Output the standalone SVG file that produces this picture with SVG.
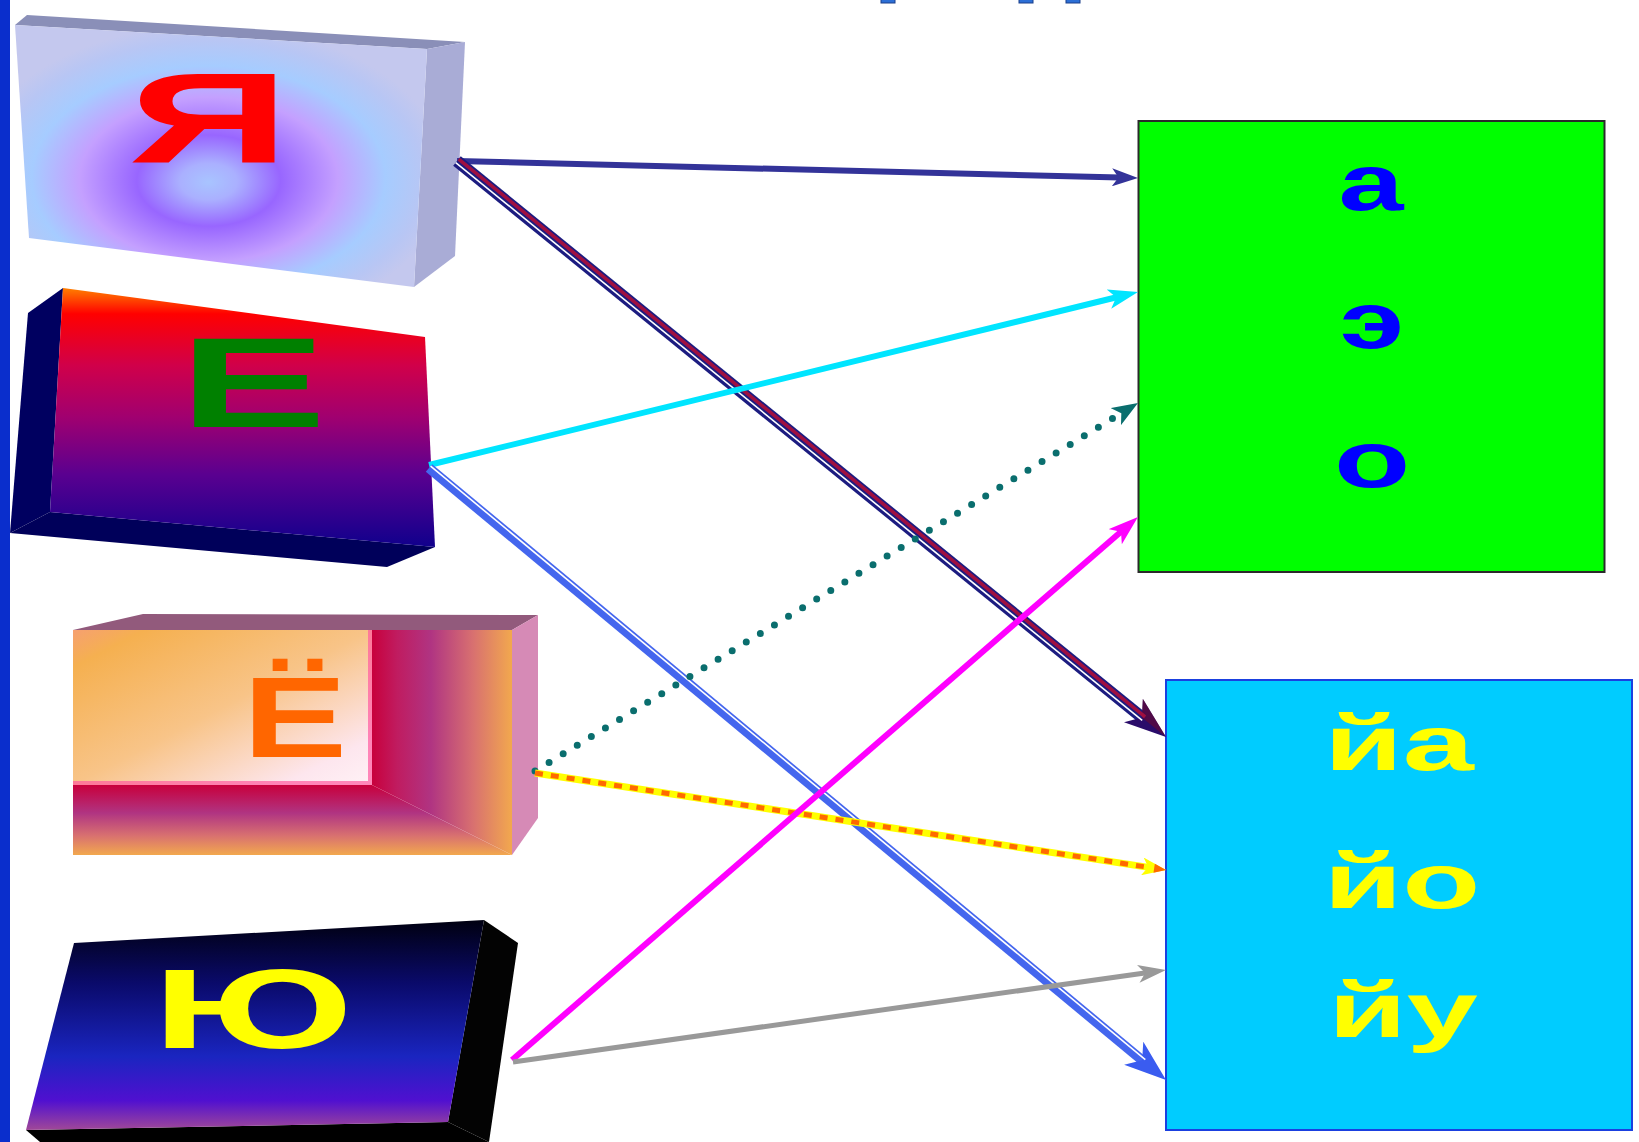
<svg xmlns="http://www.w3.org/2000/svg" width="1639" height="1142" viewBox="0 0 1639 1142">
<style>
.lt{font-family:"Liberation Sans",Arial,sans-serif;font-weight:bold;text-anchor:middle}
.c{fill:none}
</style>
<defs>
<radialGradient id="gYa" cx="0.47" cy="0.58" r="0.58" fx="0.47" fy="0.6">
<stop offset="0" stop-color="#a8c4ff"/>
<stop offset="0.12" stop-color="#aab0ff"/>
<stop offset="0.3" stop-color="#9866ff"/>
<stop offset="0.54" stop-color="#c4a0ff"/>
<stop offset="0.74" stop-color="#a6ccff"/>
<stop offset="0.9" stop-color="#b8c6f4"/>
<stop offset="1" stop-color="#c4c8ee"/>
</radialGradient>
<linearGradient id="gE" x1="0" y1="0" x2="0" y2="1">
<stop offset="0" stop-color="#ff8000"/>
<stop offset="0.1" stop-color="#ff0000"/>
<stop offset="0.3" stop-color="#d0004a"/>
<stop offset="0.5" stop-color="#a00070"/>
<stop offset="0.72" stop-color="#5a0090"/>
<stop offset="1" stop-color="#10008c"/>
</linearGradient>
<linearGradient id="gYoTL" x1="0" y1="0" x2="1" y2="1">
<stop offset="0" stop-color="#f6a070"/>
<stop offset="0.12" stop-color="#f5b050"/>
<stop offset="0.5" stop-color="#f8c488"/>
<stop offset="0.85" stop-color="#fde6ee"/>
<stop offset="1" stop-color="#fff2f6"/>
</linearGradient>
<linearGradient id="gYoR" gradientUnits="userSpaceOnUse" x1="372" y1="0" x2="512" y2="0">
<stop offset="0" stop-color="#c8003c"/>
<stop offset="0.18" stop-color="#c01c60"/>
<stop offset="0.42" stop-color="#b03482"/>
<stop offset="0.72" stop-color="#d87070"/>
<stop offset="1" stop-color="#f2a84e"/>
</linearGradient>
<linearGradient id="gYoB" gradientUnits="userSpaceOnUse" x1="0" y1="785" x2="0" y2="855">
<stop offset="0" stop-color="#c8003c"/>
<stop offset="0.4" stop-color="#b03482"/>
<stop offset="0.72" stop-color="#d87070"/>
<stop offset="1" stop-color="#f2a84e"/>
</linearGradient>
<linearGradient id="gYu" x1="0" y1="0" x2="0" y2="1">
<stop offset="0" stop-color="#000010"/>
<stop offset="0.3" stop-color="#0a0a6a"/>
<stop offset="0.65" stop-color="#1a25c0"/>
<stop offset="0.86" stop-color="#5010d0"/>
<stop offset="1" stop-color="#a04898"/>
</linearGradient>
<marker id="m1" viewBox="-26 -9 26 18" refX="-18" refY="0" markerWidth="26" markerHeight="18" markerUnits="userSpaceOnUse" orient="auto"><path d="M0,0 L-26,-9 L-19.5,0 L-26,9 Z" fill="#333399"/></marker>
<marker id="m2" viewBox="-42 -15 42 30" refX="-29" refY="0" markerWidth="42" markerHeight="30" markerUnits="userSpaceOnUse" orient="auto"><path d="M0,0 L-42,-15 L-31,0 L-42,15 Z" fill="#2a0c6a"/><path d="M0,0 L-42,-15 L-31,0 Z" fill="#6a0a30" opacity="0.6"/></marker>
<marker id="m3" viewBox="-30 -10 30 20" refX="-21" refY="0" markerWidth="30" markerHeight="20" markerUnits="userSpaceOnUse" orient="auto"><path d="M0,0 L-30,-10 L-22.5,0 L-30,10 Z" fill="#00e5ff"/></marker>
<marker id="m4" viewBox="-42 -15 42 30" refX="-29" refY="0" markerWidth="42" markerHeight="30" markerUnits="userSpaceOnUse" orient="auto"><path d="M0,0 L-42,-15 L-31,0 L-42,15 Z" fill="#3a5cf0"/></marker>
<marker id="m5" viewBox="-26 -10 26 20" refX="-18" refY="0" markerWidth="26" markerHeight="20" markerUnits="userSpaceOnUse" orient="auto"><path d="M0,0 L-26,-10 L-19.5,0 L-26,10 Z" fill="#0a6e6e"/></marker>
<marker id="m6" viewBox="-24 -9 24 18" refX="-16" refY="0" markerWidth="24" markerHeight="18" markerUnits="userSpaceOnUse" orient="auto"><path d="M0,0 L-24,-9 L-18,0 L-24,9 Z" fill="#ffff00"/><path d="M0,0 L-12,-4.5 L-12,4.5 Z" fill="#ff6a00"/></marker>
<marker id="m7" viewBox="-30 -10 30 20" refX="-21" refY="0" markerWidth="30" markerHeight="20" markerUnits="userSpaceOnUse" orient="auto"><path d="M0,0 L-30,-10 L-22.5,0 L-30,10 Z" fill="#ff00ff"/></marker>
<marker id="m8" viewBox="-28 -9 28 18" refX="-19.6" refY="0" markerWidth="28" markerHeight="18" markerUnits="userSpaceOnUse" orient="auto"><path d="M0,0 L-28,-9 L-21,0 L-28,9 Z" fill="#999999"/></marker>
</defs>
<rect width="1639" height="1142" fill="#ffffff"/>
<rect x="0" y="0" width="10" height="1142" fill="#0a2ecc"/>
<g id="title-fragments" fill="#2c6fd6" stroke="#1a3f8a" stroke-width="1">
<rect x="881" y="-2" width="14" height="5"/>
<rect x="1019" y="-2" width="14" height="5"/>
<rect x="1066" y="-2" width="14" height="5"/>
</g>
<g id="node-ya">
<polygon points="15,25 27,15 465,42 427,49" fill="#8a8fb8"/>
<polygon points="427,49 465,42 455,256 414,287" fill="#a9acd6"/>
<polygon points="15,25 427,49 414,287 29,238" fill="url(#gYa)"/>
<text class="lt" transform="translate(209,163) scale(1.75,1)" font-size="128" fill="#ff0000">Я</text>
</g>
<g id="node-e">
<polygon points="63,288 28,313 10,533 50,512" fill="#000060"/>
<polygon points="50,512 10,533 387,567 435,547" fill="#00005a"/>
<polygon points="63,288 425,337 435,547 50,512" fill="url(#gE)"/>
<text class="lt" transform="translate(253,427) scale(1.72,1)" font-size="128" fill="#008000">Е</text>
</g>
<g id="node-yo">
<polygon points="73,630 143,614 538,615 512,630" fill="#925a7c"/>
<polygon points="512,630 538,615 538,818 512,855" fill="#d68ab6"/>
<rect x="73" y="630" width="299" height="155" fill="url(#gYoTL)"/>
<polygon points="372,630 512,630 512,855 372,785" fill="url(#gYoR)"/>
<polygon points="73,785 372,785 512,855 73,855" fill="url(#gYoB)"/>
<polyline points="370,630 370,783 73,783" fill="none" stroke="#ff5aa0" stroke-width="4" opacity="0.7"/>
<text class="lt" transform="translate(295,757) scale(1.36,1)" font-size="115" fill="#ff6600">Ё</text>
</g>
<g id="node-yu">
<polygon points="484,920 518,943 489,1142 448,1122" fill="#030303"/>
<polygon points="26,1130 448,1122 489,1142 40,1142" fill="#000000"/>
<polygon points="74,943 484,920 448,1122 26,1130" fill="url(#gYu)"/>
<text class="lt" transform="translate(253,1048) scale(1.72,1)" font-size="113" fill="#ffff00">Ю</text>
</g>
<g id="node-green">
<rect x="1138.5" y="121" width="466" height="451" fill="#00ff00" stroke="#2a2a2a" stroke-width="2"/>
<text class="lt" transform="translate(1371,210) scale(1.48,1)" font-size="79" fill="#0000ff">а</text>
<text class="lt" transform="translate(1372,348) scale(1.48,1)" font-size="79" fill="#0000ff">э</text>
<text class="lt" transform="translate(1372,487) scale(1.58,1)" font-size="79" fill="#0000ff">о</text>
</g>
<g id="node-cyan">
<rect x="1166" y="680" width="466" height="450" fill="#00ccff" stroke="#1a40e0" stroke-width="2"/>
<text class="lt" transform="translate(1399,770) scale(1.66,1)" font-size="77" fill="#ffff00">йа</text>
<text class="lt" transform="translate(1402,908) scale(1.66,1)" font-size="77" fill="#ffff00">йо</text>
<text class="lt" transform="translate(1403,1037) scale(1.66,1)" font-size="77" fill="#ffff00">йу</text>
</g>
<g id="connectors">
<line class="c" x1="457" y1="161" x2="1120" y2="177.5" stroke="#333399" stroke-width="6" marker-end="url(#m1)"/>
<line class="c" x1="457" y1="161" x2="1143.5" y2="718.7" stroke="#1c1c80" stroke-width="12" marker-end="url(#m2)"/>
<line class="c" x1="458.6" y1="159.1" x2="1145.1" y2="716.8" stroke="#a01040" stroke-width="3.5"/>
<line class="c" x1="455.7" y1="162.6" x2="1142.2" y2="720.3" stroke="#ffffff" stroke-width="1.6"/>
<line class="c" x1="429" y1="465" x2="1117.6" y2="297" stroke="#00e5ff" stroke-width="6" marker-end="url(#m3)"/>
<line class="c" x1="429" y1="468" x2="1143.7" y2="1061.5" stroke="#4466ee" stroke-width="10" marker-end="url(#m4)"/>
<line class="c" x1="430.6" y1="466.1" x2="1145.3" y2="1059.6" stroke="#ffffff" stroke-width="1.6"/>
<line class="c" x1="535" y1="771" x2="1122.6" y2="412.4" stroke="#0a6e6e" stroke-width="7" stroke-linecap="round" stroke-dasharray="0 16.5" marker-end="url(#m5)"/>
<line class="c" x1="535" y1="773" x2="1150.2" y2="867.6" stroke="#ffff00" stroke-width="7" marker-end="url(#m6)"/>
<line class="c" x1="535" y1="773" x2="1150.2" y2="867.6" stroke="#ff6a00" stroke-width="5" stroke-dasharray="8 8"/>
<line class="c" x1="512" y1="1060" x2="1122.1" y2="530.8" stroke="#ff00ff" stroke-width="6" marker-end="url(#m7)"/>
<line class="c" x1="513" y1="1062" x2="1146.6" y2="972.7" stroke="#999999" stroke-width="5" marker-end="url(#m8)"/>
</g>
</svg>
